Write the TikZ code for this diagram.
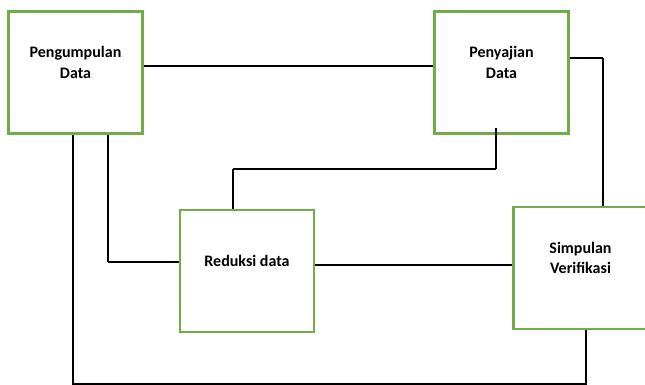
\documentclass[tikz,border=0pt]{standalone}
\usepackage{fontspec}
\setmainfont{Carlito}
\usetikzlibrary{positioning}

\definecolor{boxgreen}{HTML}{70AD47}

\begin{document}
\begin{tikzpicture}[x=1pt,y=1pt,on grid,
	stage/.style={draw=boxgreen,line width=2.8pt,minimum width=134pt,minimum height=122pt,inner sep=0pt},
	stagetext/.style={font=\bfseries\fontsize{16}{20.5}\selectfont,align=center},
	hline/.style={line width=2.4pt},
	vline/.style={line width=1.3pt}]
	\useasboundingbox (0,0) rectangle (645,-385);
	\node[stage] (peng) at (75.5,-72.5) {};
	\node[stage] (penj) [right=426pt of peng] {};
	\node[stage] (red) [below right=198.5pt and 171.5pt of peng] {};
	\node[stage] (simp) [right=333.5pt of red,yshift=3pt] {};
	\node[stagetext] (pengT) at ([yshift=10pt]peng.center) {Pengumpulan\\Data};
	\node[stagetext] (penjT) at ([yshift=10pt]penj.center) {Penyajian\\Data};
	\node[stagetext] (redT) at ([yshift=10pt]red.center) {Reduksi data};
	\node[stagetext] (simpT) at ([yshift=10pt]simp.center) {Simpulan\\Verifikasi};
	% anchor points on the boxes
	\coordinate (a1) at ([yshift=14.5pt]penj.east);
	\coordinate (s1) at ([xshift=22.5pt]simp.north);
	\coordinate (b1) at ([xshift=-5.5pt,yshift=7pt]penj.south);
	\coordinate (r1) at ([xshift=-14pt]red.north);
	\coordinate (c1) at ([xshift=32.5pt]peng.south);
	\coordinate (r2) at ([yshift=9pt]red.west);
	\coordinate (r3) at ([yshift=6pt]red.east);
	\coordinate (c2) at ([xshift=-2.5pt]peng.south);
	\coordinate (s2) at ([xshift=5.5pt]simp.south);
	% connectors
	\draw[hline] ([yshift=6.5pt]peng.east) -- ([yshift=6.5pt]penj.west);
	\draw[hline] (a1) -- (a1 -| s1) coordinate (k1);
	\draw[vline] (k1) -- (s1);
	\draw[vline] (b1) -- ++(0,-41) coordinate (k2);
	\draw[hline] (k2) -- (k2 -| r1) coordinate (k3);
	\draw[vline] (k3) -- (r1);
	\draw[vline] (c1) -- (c1 |- r2) coordinate (k4);
	\draw[hline] (k4) -- (r2);
	\draw[hline] (r3) -- (r3 -| simp.west);
	\draw[vline] (c2) -- ++(0,-249) -| (s2);
\end{tikzpicture}
\end{document}
